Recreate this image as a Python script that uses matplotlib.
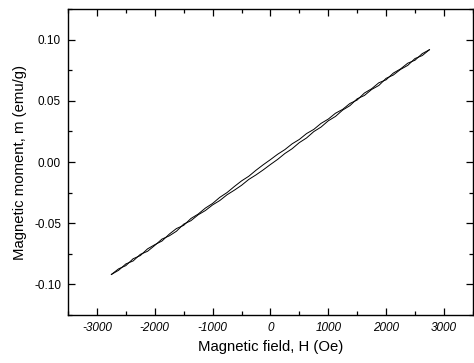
import matplotlib
matplotlib.use("Agg")
import matplotlib.pyplot as plt
from matplotlib.ticker import MultipleLocator

# field values (Oe), shared by both branches
field = [-2750, -2625, -2500, -2375, -2250, -2125, -2000, -1875, -1750, -1625,
         -1500, -1375, -1250, -1125, -1000, -875, -750, -625, -500, -375,
         -250, -125, 0, 125, 250, 375, 500, 625, 750, 875,
         1000, 1125, 1250, 1375, 1500, 1625, 1750, 1875, 2000, 2125,
         2250, 2375, 2500, 2625, 2750]

# upper branch (field sweeping down)
m_upper = [-0.0918, -0.0872, -0.0846, -0.0790, -0.0764, -0.0709, -0.0675, -0.0645, -0.0589, -0.0543,
           -0.0517, -0.0461, -0.0425, -0.0376, -0.0338, -0.0288, -0.0249, -0.0200, -0.0154, -0.0116,
           -0.0067, -0.0022, 0.0020, 0.0064, 0.0102, 0.0149, 0.0185, 0.0233, 0.0267, 0.0316,
           0.0351, 0.0399, 0.0431, 0.0479, 0.0507, 0.0564, 0.0599, 0.0648, 0.0672, 0.0727,
           0.0761, 0.0808, 0.0832, 0.0886, 0.0918]

# lower branch (field sweeping up)
m_lower = [-0.0918, -0.0884, -0.0832, -0.0808, -0.0754, -0.0729, -0.0681, -0.0629, -0.0603, -0.0565,
           -0.0507, -0.0479, -0.0431, -0.0396, -0.0350, -0.0314, -0.0267, -0.0230, -0.0190, -0.0142,
           -0.0105, -0.0064, -0.0020, 0.0022, 0.0070, 0.0109, 0.0159, 0.0197, 0.0249, 0.0286,
           0.0337, 0.0373, 0.0425, 0.0461, 0.0517, 0.0544, 0.0593, 0.0626, 0.0684, 0.0711,
           0.0757, 0.0790, 0.0846, 0.0870, 0.0918]

x_ticks = [-3000, -2000, -1000, 0, 1000, 2000, 3000]
y_ticks = [-0.10, -0.05, 0.00, 0.05, 0.10]

plt.rcParams['font.family'] = ['Liberation Sans', 'DejaVu Sans']

fig = plt.figure(figsize=(4.74, 3.63), dpi=100)
ax = fig.add_axes([0.1435, 0.132, 0.854, 0.843])

ax.plot(field, m_upper, color='black', lw=0.7)
ax.plot(field, m_lower, color='black', lw=0.7)

ax.set_xlim(-3500, 3500)
ax.set_ylim(-0.125, 0.125)
ax.set_xticks(x_ticks)
ax.set_yticks(y_ticks)
ax.set_xticklabels([str(t) for t in x_ticks], fontstyle='italic', fontsize=8.5)
ax.set_yticklabels(['%.2f' % t for t in y_ticks], fontsize=8.5)
ax.xaxis.set_minor_locator(MultipleLocator(500))
ax.yaxis.set_minor_locator(MultipleLocator(0.025))

ax.tick_params(which='both', direction='in', top=True, right=True, pad=5, width=0.9)
ax.tick_params(which='major', length=5)
ax.tick_params(which='minor', length=3)
for s in ax.spines.values():
    s.set_linewidth(1.0)

ax.set_xlabel("Magnetic field, H (Oe)", fontsize=10.7, labelpad=4)
ax.set_ylabel("Magnetic moment, m (emu/g)", fontsize=10.7, labelpad=5)

fig.savefig("out.png", dpi=100)
